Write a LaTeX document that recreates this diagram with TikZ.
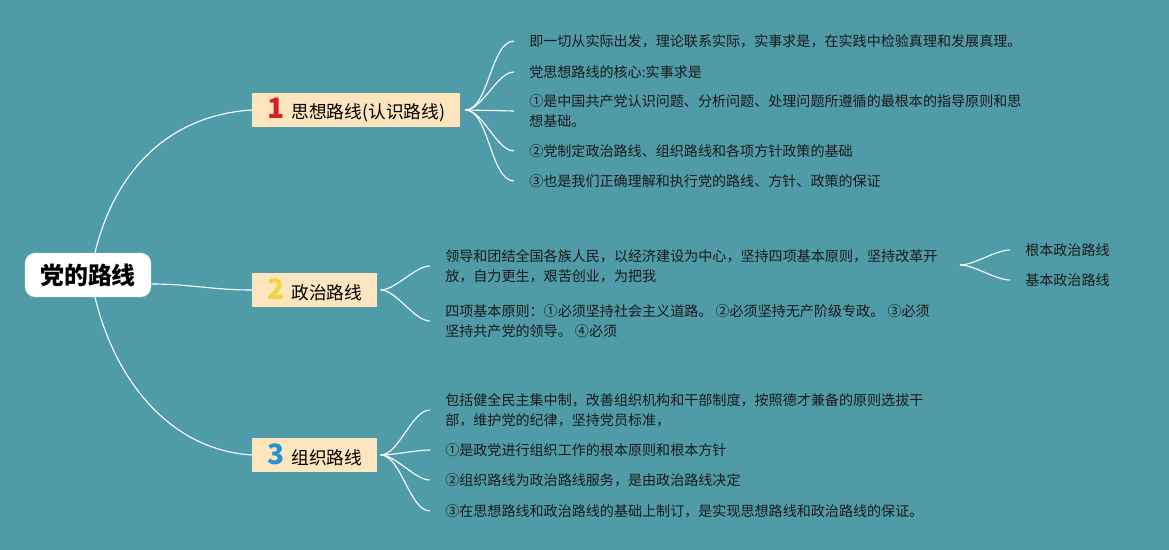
\documentclass[tikz,border=0pt]{standalone}
\usepackage{fontspec}
\setmainfont{Noto Sans CJK SC}
\usepackage{tikz}
\usetikzlibrary{calc}
\definecolor{bgteal}{RGB}{80,155,168}
\definecolor{boxfill}{RGB}{252,229,191}
\definecolor{numred}{RGB}{214,32,40}
\definecolor{numyellow}{RGB}{244,210,62}
\definecolor{numblue}{RGB}{40,145,215}
\definecolor{leaftext}{RGB}{25,25,25}
\newcommand{\branchnum}[2]{{\fontsize{20}{20}\selectfont\bfseries\color{#1}#2}\hspace{5pt}}

\begin{document}
\begin{tikzpicture}[x=0.025cm, y=-0.025cm,
  root/.style={rectangle, rounded corners=0.25cm, fill=white, minimum width=3.15cm, minimum height=1.1cm, font=\fontsize{17}{20}\selectfont\bfseries},
  branch/.style={rectangle, fill=boxfill, anchor=west, minimum height=0.85cm, inner xsep=0.375cm, inner ysep=0pt, font=\fontsize{12.6}{14}\selectfont},
  leaf/.style={anchor=west, align=left, inner xsep=0.375cm, inner ysep=1pt, text=leaftext, font=\fontsize{10}{14.2}\selectfont},
  link/.style={draw=white, line width=0.8pt},
  fan/.style={out=0, in=180, looseness=0.7},
]
  \fill[bgteal] (0,0) rectangle (1169,550);

  \node[root] (root) at (88,275) {党的路线};
  \node[branch] (b1) at (252,110) {\branchnum{numred}{1}思想路线(认识路线)};
  \node[branch] (b2) at (252,290) {\branchnum{numyellow}{2}政治路线};
  \node[branch] (b3) at (252,455) {\branchnum{numblue}{3}组织路线};

  \draw[link] ($(root.north)+(7,0)$) .. controls +(20,-83) and +(-82,5) .. (b1.west);
  \draw[link] ($(root.east)+(0,9)$) to[out=0, in=180] (b2.west);
  \draw[link] ($(root.south)+(7,0)$) .. controls +(20,83) and +(-82,-5) .. (b3.west);

  \node[leaf] (t11) at (514,41) {即一切从实际出发，理论联系实际，实事求是，在实践中检验真理和发展真理。};
  \node[leaf] (t12) at (514,72) {党思想路线的核心:实事求是};
  \node[leaf] (t13) at (514,111) {①是中国共产党认识问题、分析问题、处理问题所遵循的最根本的指导原则和思\\想基础。};
  \node[leaf] (t14) at (514,151) {②党制定政治路线、组织路线和各项方针政策的基础};
  \node[leaf] (t15) at (514,181) {③也是我们正确理解和执行党的路线、方针、政策的保证};

  \node[leaf] (t21) at (430,266) {领导和团结全国各族人民，以经济建设为中心，坚持四项基本原则，坚持改革开\\放，自力更生，艰苦创业，为把我};
  \node[leaf] (t22) at (430,321) {四项基本原则：①必须坚持社会主义道路。 ②必须坚持无产阶级专政。 ③必须\\坚持共产党的领导。 ④必须};
  \node[leaf] (s1) at (1010,250) {根本政治路线};
  \node[leaf] (s2) at (1010,280) {基本政治路线};

  \node[leaf] (t31) at (430,410) {包括健全民主集中制，改善组织机构和干部制度，按照德才兼备的原则选拔干\\部，维护党的纪律，坚持党员标准，};
  \node[leaf] (t32) at (430,450) {①是政党进行组织工作的根本原则和根本方针};
  \node[leaf] (t33) at (430,480) {②组织路线为政治路线服务，是由政治路线决定};
  \node[leaf] (t34) at (430,511) {③在思想路线和政治路线的基础上制订，是实现思想路线和政治路线的保证。};

  \coordinate (f1) at ($(b1.east)+(5,0)$);
  \coordinate (f2) at ($(b2.east)+(3,0)$);
  \coordinate (f3) at ($(b3.east)+(3,0)$);
  \coordinate (f21) at (960,265);

  \draw[link] (f1) to[fan] (t11.west);
  \draw[link] (f1) to[fan] (t12.west);
  \draw[link] (f1) -- (t13.west);
  \draw[link] (f1) to[fan] (t14.west);
  \draw[link] (f1) to[fan] (t15.west);

  \draw[link] (f2) to[fan] (t21.west);
  \draw[link] (f2) to[fan] (t22.west);
  \draw[link] (f21) to[fan] (s1.west);
  \draw[link] (f21) to[fan] (s2.west);

  \draw[link] (f3) to[fan] (t31.west);
  \draw[link] (f3) to[fan] (t32.west);
  \draw[link] (f3) to[fan] (t33.west);
  \draw[link] (f3) to[fan] (t34.west);
\end{tikzpicture}
\end{document}
